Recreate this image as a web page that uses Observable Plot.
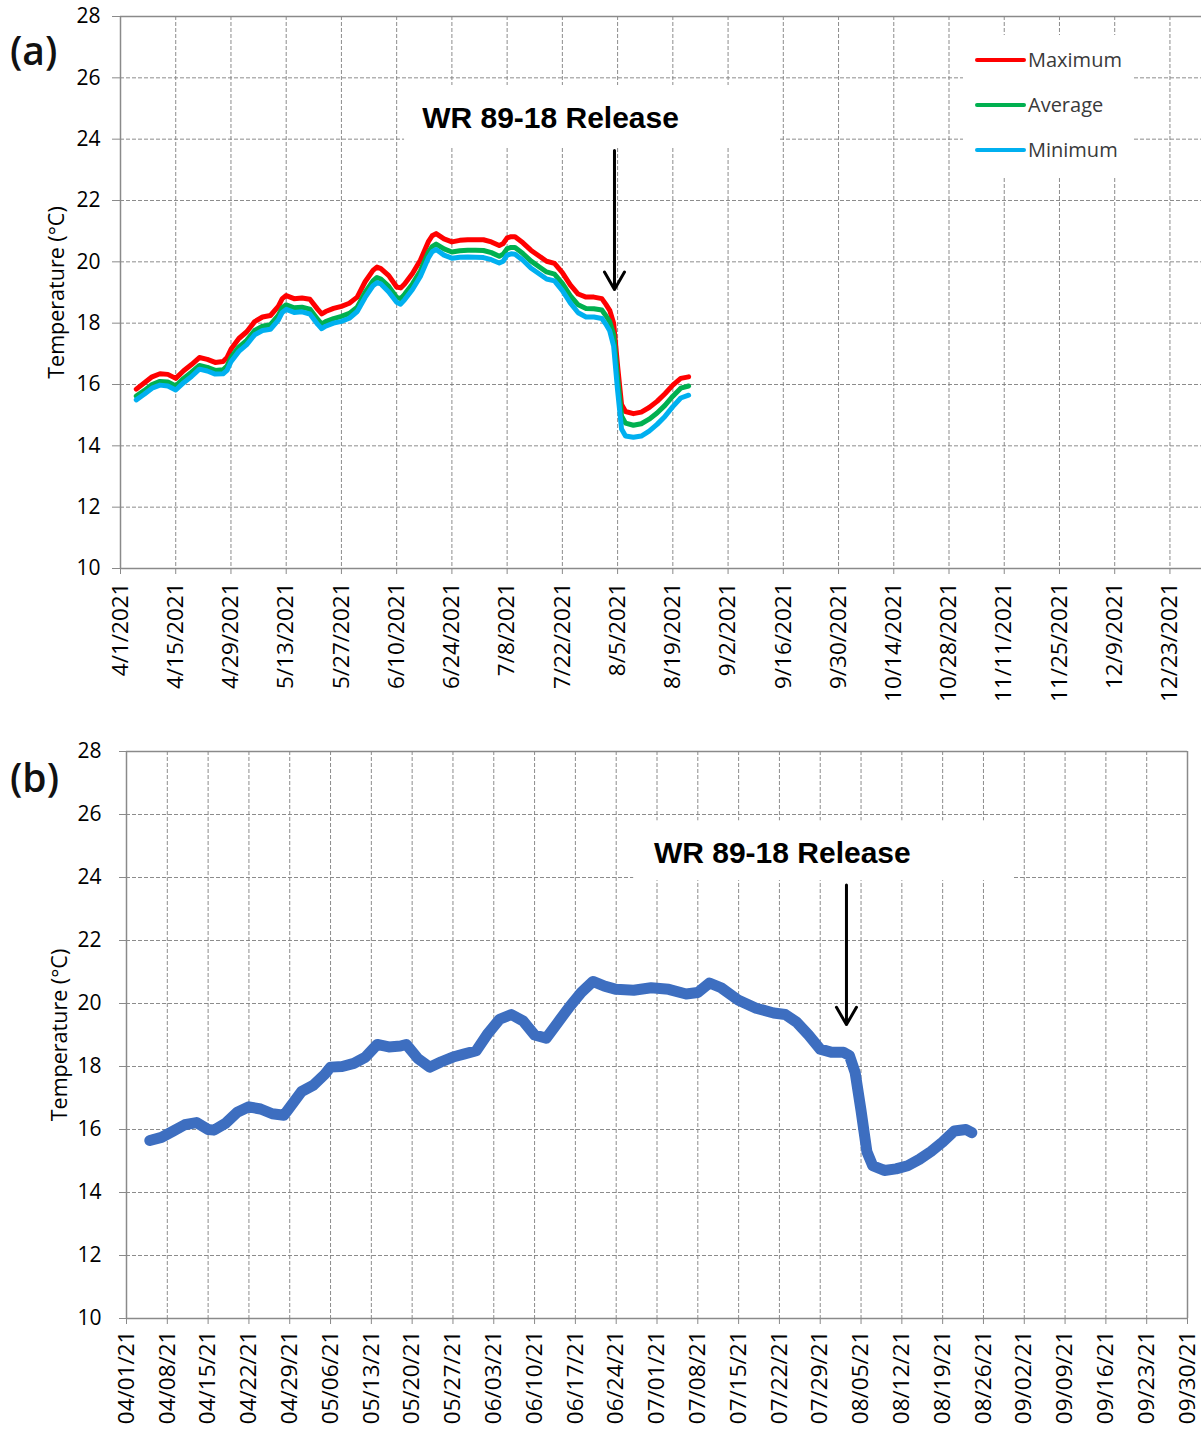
<!DOCTYPE html>
<html>
<head>
<meta charset="utf-8">
<script src="https://cdn.jsdelivr.net/npm/d3@7"></script>
<script src="https://cdn.jsdelivr.net/npm/@observablehq/plot@0.6"></script>
<style>
  body { margin: 0; background: #fff; }
  #wrap { position: relative; width: 1203px; height: 1435px; overflow: hidden; font-family: 'Open Sans', sans-serif; background: #fff; }
  .holder { position: absolute; left: 0; }
  .tag { position: absolute; left: 10px; font-size: 39px; font-weight: 600; line-height: 50px; height: 50px; color: #111; }
  .leg { position: absolute; left: 963px; top: 35px; width: 170px; height: 143px; background: #fff; }
  .leg .sw { position: absolute; left: 12px; width: 51px; height: 4px; border-radius: 2px; }
  .leg .lb { position: absolute; left: 65px; font-size: 20px; line-height: 26px; height: 26px; color: #3a3a3a; }
</style>
</head>
<body>
<div id="wrap">
  <div class="holder" id="pa" style="top:0px"></div>
  <div class="holder" id="pb" style="top:720px"></div>
  <div class="tag" style="top:25px">(a)</div>
  <div class="tag" style="top:752px">(b)</div>
  <div class="leg" id="legend"></div>
</div>
<script>
// ---------- Panel (a) data ----------
const xTickLabelsA = ["4/1/2021","4/15/2021","4/29/2021","5/13/2021","5/27/2021","6/10/2021","6/24/2021","7/8/2021","7/22/2021","8/5/2021","8/19/2021","9/2/2021","9/16/2021","9/30/2021","10/14/2021","10/28/2021","11/11/2021","11/25/2021","12/9/2021","12/23/2021"];
const yTicks = [10, 12, 14, 16, 18, 20, 22, 24, 26, 28];
const seriesNamesA = ["Maximum", "Average", "Minimum"];
const seriesColorsA = ["#ff0000", "#00b050", "#00b0f0"];

const datesA = ["2021-04-05","2021-04-07","2021-04-09","2021-04-11","2021-04-13","2021-04-15","2021-04-17","2021-04-19","2021-04-21","2021-04-23","2021-04-25","2021-04-27","2021-04-28","2021-04-29",
"2021-05-01","2021-05-03","2021-05-05","2021-05-07","2021-05-09","2021-05-11","2021-05-12","2021-05-13","2021-05-15","2021-05-17","2021-05-19","2021-05-21","2021-05-22","2021-05-23","2021-05-25","2021-05-27","2021-05-29","2021-05-31",
"2021-06-02","2021-06-04","2021-06-05","2021-06-06","2021-06-08","2021-06-10","2021-06-11","2021-06-12","2021-06-14","2021-06-16","2021-06-18","2021-06-19","2021-06-20","2021-06-22","2021-06-24","2021-06-26","2021-06-28","2021-06-30",
"2021-07-02","2021-07-04","2021-07-06","2021-07-07","2021-07-08","2021-07-09","2021-07-10","2021-07-12","2021-07-14","2021-07-16","2021-07-18","2021-07-20","2021-07-22","2021-07-24","2021-07-26","2021-07-28","2021-07-30",
"2021-08-01","2021-08-02","2021-08-03","2021-08-04","2021-08-05","2021-08-06","2021-08-07","2021-08-09","2021-08-11","2021-08-13","2021-08-15","2021-08-17","2021-08-19","2021-08-21","2021-08-23"];

const maxA = [15.85,16.05,16.25,16.35,16.33,16.2,16.45,16.65,16.88,16.82,16.72,16.75,16.88,17.15,
17.5,17.72,18.05,18.2,18.25,18.55,18.8,18.9,18.8,18.82,18.78,18.45,18.3,18.38,18.48,18.55,18.65,18.85,
19.35,19.72,19.83,19.78,19.55,19.18,19.15,19.28,19.62,20.05,20.65,20.85,20.92,20.75,20.65,20.7,20.72,20.72,
20.72,20.65,20.53,20.6,20.78,20.82,20.82,20.62,20.38,20.2,20.02,19.95,19.65,19.25,18.95,18.85,18.85,
18.8,18.62,18.42,18.0,16.6,15.35,15.12,15.05,15.1,15.25,15.45,15.7,15.98,16.2,16.25];

const avgA = [15.62,15.8,16.0,16.1,16.08,15.95,16.2,16.4,16.62,16.56,16.46,16.48,16.6,16.88,
17.22,17.44,17.76,17.9,17.95,18.25,18.5,18.6,18.5,18.52,18.46,18.12,17.97,18.05,18.15,18.22,18.32,18.52,
19.0,19.38,19.49,19.44,19.2,18.84,18.8,18.94,19.28,19.7,20.3,20.5,20.58,20.42,20.32,20.36,20.38,20.38,
20.37,20.3,20.18,20.25,20.43,20.47,20.47,20.27,20.03,19.85,19.67,19.6,19.3,18.9,18.6,18.48,18.47,
18.43,18.25,18.05,17.62,16.2,14.97,14.74,14.67,14.72,14.87,15.07,15.32,15.62,15.88,15.95];

const minA = [15.5,15.68,15.88,15.98,15.95,15.82,16.06,16.26,16.5,16.44,16.34,16.35,16.46,16.74,
17.08,17.3,17.62,17.76,17.8,18.1,18.35,18.45,18.35,18.37,18.3,17.96,17.82,17.9,18.0,18.06,18.16,18.38,
18.84,19.22,19.32,19.28,19.02,18.68,18.62,18.76,19.1,19.52,20.12,20.33,20.4,20.22,20.12,20.15,20.16,20.15,
20.14,20.07,19.96,20.02,20.22,20.26,20.25,20.05,19.8,19.62,19.44,19.38,19.06,18.66,18.34,18.2,18.2,
18.15,17.97,17.75,17.25,15.8,14.55,14.32,14.28,14.32,14.48,14.7,14.96,15.28,15.56,15.65];

// ---------- Panel (b) data ----------
const xTickLabelsB = ["04/01/21","04/08/21","04/15/21","04/22/21","04/29/21","05/06/21","05/13/21","05/20/21","05/27/21","06/03/21","06/10/21","06/17/21","06/24/21","07/01/21","07/08/21","07/15/21","07/22/21","07/29/21","08/05/21","08/12/21","08/19/21","08/26/21","09/02/21","09/09/21","09/16/21","09/23/21","09/30/21"];

const datesB = ["2021-04-05","2021-04-07","2021-04-09","2021-04-11","2021-04-13","2021-04-15","2021-04-16","2021-04-18","2021-04-20","2021-04-22","2021-04-24","2021-04-26","2021-04-28","2021-04-29",
"2021-05-01","2021-05-03","2021-05-05","2021-05-06","2021-05-08","2021-05-10","2021-05-12","2021-05-14","2021-05-16","2021-05-18","2021-05-19","2021-05-21","2021-05-23","2021-05-25","2021-05-27","2021-05-29","2021-05-31",
"2021-06-02","2021-06-04","2021-06-06","2021-06-08","2021-06-10","2021-06-12","2021-06-14","2021-06-16","2021-06-18","2021-06-20","2021-06-22","2021-06-24","2021-06-27","2021-06-30",
"2021-07-03","2021-07-06","2021-07-08","2021-07-10","2021-07-12","2021-07-15","2021-07-18","2021-07-21","2021-07-23","2021-07-25","2021-07-27","2021-07-29","2021-07-31",
"2021-08-02","2021-08-03","2021-08-04","2021-08-05","2021-08-06","2021-08-07","2021-08-09","2021-08-11","2021-08-13","2021-08-15","2021-08-17","2021-08-19","2021-08-21","2021-08-23","2021-08-24"];

const tempB = [15.65,15.75,15.95,16.15,16.22,16.0,15.98,16.2,16.55,16.72,16.65,16.5,16.45,16.7,
17.2,17.4,17.75,17.98,18.0,18.1,18.3,18.7,18.62,18.65,18.7,18.25,17.98,18.15,18.3,18.4,18.5,
19.05,19.5,19.65,19.45,19.0,18.9,19.4,19.9,20.35,20.7,20.55,20.45,20.42,20.5,
20.45,20.3,20.35,20.65,20.5,20.1,19.85,19.7,19.65,19.4,19.0,18.55,18.45,
18.45,18.35,17.8,16.6,15.3,14.85,14.7,14.75,14.85,15.05,15.3,15.6,15.95,16.0,15.9];

// ---------- Annotations ----------
const annLabel = "WR 89-18 Release";
const yTitle = "Temperature (°C)";
const annA = {x: "2021-07-19", y: 24.67, boxX1: "2021-06-12", boxX2: "2021-09-15", boxY1: 23.73, boxY2: 25.75,
              arrowX: "2021-08-04T05:00Z", arrowY1: 23.63, arrowY2: 19.1};
const annB = {x: "2021-07-22T12:00Z", y: 24.76, boxX1: "2021-06-27", boxX2: "2021-08-31", boxY1: 23.9, boxY2: 25.8,
              arrowX: "2021-08-02T12:00Z", arrowY1: 23.76, arrowY2: 19.33};

// ---------- Build ----------
const parseA = d3.utcParse("%m/%d/%Y");
const parseB = d3.utcParse("%m/%d/%y");
const ticksA = xTickLabelsA.map(parseA);
const ticksB = xTickLabelsB.map(parseB);
const labA = new Map(ticksA.map((d, i) => [+d, xTickLabelsA[i]]));
const labB = new Map(ticksB.map((d, i) => [+d, xTickLabelsB[i]]));

const longA = [];
datesA.forEach((d, i) => {
  [maxA, avgA, minA].forEach((arr, k) => longA.push({date: new Date(d), temp: arr[i], series: seriesNamesA[k]}));
});
const dataB = datesB.map((d, i) => ({date: new Date(d), temp: tempB[i]}));

const gridColor = "#7f7f7f";
const axisColor = "#8a8a8a";
const baseStyle = {fontFamily: "'Open Sans', sans-serif", fontSize: "21px", color: "#000", background: "transparent", overflow: "visible"};

function annMarks(a) {
  return [
    Plot.rect([a], {x1: d => new Date(d.boxX1), x2: d => new Date(d.boxX2), y1: "boxY1", y2: "boxY2", fill: "#fff"}),
  ];
}
function annTop(a) {
  return [
    Plot.text([a], {x: d => new Date(d.x), y: "y", text: () => annLabel, fontSize: 30, fontWeight: "bold",
      fontFamily: "'Liberation Sans', Arial, sans-serif", fill: "#000"}),
    Plot.arrow([a], {x1: d => new Date(d.arrowX), x2: d => new Date(d.arrowX), y1: "arrowY1", y2: "arrowY2",
      stroke: "#000", strokeWidth: 3, headLength: 10, headAngle: 60})
  ];
}

const domA = [new Date("2021-04-01"), new Date("2021-12-31")];
const plotA = Plot.plot({
  width: 1203, height: 712,
  marginTop: 16, marginBottom: 144, marginLeft: 120, marginRight: 2,
  style: baseStyle,
  x: {type: "utc", domain: domA},
  y: {domain: [10, 28]},
  color: {domain: seriesNamesA, range: seriesColorsA},
  marks: [
    Plot.gridX(ticksA, {stroke: gridColor, strokeOpacity: 0.9, strokeDasharray: "4,2"}),
    Plot.gridY(yTicks, {stroke: gridColor, strokeOpacity: 0.9, strokeDasharray: "4,2"}),
    ...annMarks(annA),
    Plot.ruleY([10, 28], {stroke: axisColor, strokeWidth: 1.5}),
    Plot.ruleX([domA[0]], {stroke: axisColor, strokeWidth: 1.5}),
    Plot.line(longA, {x: "date", y: "temp", z: "series", stroke: "series", strokeWidth: 5, strokeLinejoin: "round", strokeLinecap: "round"}),
    ...annTop(annA),
    Plot.axisX(ticksA, {tickFormat: d => labA.get(+d), tickRotate: -90, tickSize: 6, tickPadding: 8, stroke: axisColor, fill: "#000", label: null, fontSize: 22.5}),
    Plot.axisY(yTicks, {tickSize: 8, tickPadding: 12, stroke: axisColor, fill: "#000", label: null}),
    Plot.text([yTitle], {frameAnchor: "left", textAnchor: "middle", rotate: -90, dx: -63, fontSize: 21.5, fill: "#000"})
  ]
});
document.getElementById("pa").appendChild(plotA);

const domB = [new Date("2021-04-01"), new Date("2021-09-30")];
const plotB = Plot.plot({
  width: 1203, height: 715,
  marginTop: 31, marginBottom: 117, marginLeft: 126, marginRight: 16,
  style: baseStyle,
  x: {type: "utc", domain: domB},
  y: {domain: [10, 28]},
  marks: [
    Plot.gridX(ticksB, {stroke: gridColor, strokeOpacity: 0.9, strokeDasharray: "4,2"}),
    Plot.gridY(yTicks, {stroke: gridColor, strokeOpacity: 0.9, strokeDasharray: "4,2"}),
    ...annMarks(annB),
    Plot.ruleY([10, 28], {stroke: axisColor, strokeWidth: 1.5}),
    Plot.ruleX([domB[0], domB[1]], {stroke: axisColor, strokeWidth: 1.5}),
    Plot.line(dataB, {x: "date", y: "temp", stroke: "#3d6ec0", strokeWidth: 11, strokeLinejoin: "round", strokeLinecap: "round"}),
    ...annTop(annB),
    Plot.axisX(ticksB, {tickFormat: d => labB.get(+d), tickRotate: -90, tickSize: 6, tickPadding: 6, stroke: axisColor, fill: "#000", label: null, fontSize: 22.5}),
    Plot.axisY(yTicks, {tickSize: 7, tickPadding: 18, stroke: axisColor, fill: "#000", label: null}),
    Plot.text([yTitle], {frameAnchor: "left", textAnchor: "middle", rotate: -90, dx: -66, fontSize: 21.5, fill: "#000"})
  ]
});
document.getElementById("pb").appendChild(plotB);

// ---------- Legend (panel a) ----------
const leg = document.getElementById("legend");
const rowY = [25, 70, 115];
seriesNamesA.forEach((name, i) => {
  const sw = document.createElement("div");
  sw.className = "sw";
  sw.style.top = (rowY[i] - 2) + "px";
  sw.style.background = seriesColorsA[i];
  leg.appendChild(sw);
  const lb = document.createElement("div");
  lb.className = "lb";
  lb.style.top = (rowY[i] - 13) + "px";
  lb.textContent = name;
  leg.appendChild(lb);
});
</script>
</body>
</html>
